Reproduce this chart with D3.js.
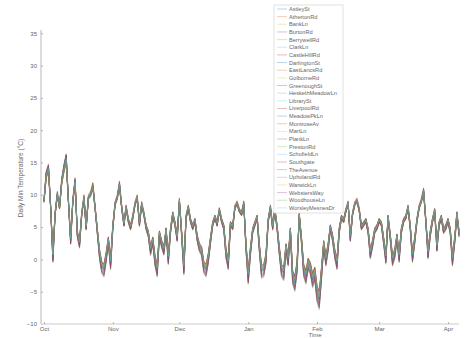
<!DOCTYPE html>
<html><head><meta charset="utf-8">
<script src="https://cdn.jsdelivr.net/npm/d3@7"></script>
<style>body{margin:0;background:#fff}svg{display:block}text{font-family:"Liberation Sans",Arial,sans-serif}</style>
</head><body>
<svg id="c" width="468" height="338"></svg>
<script>
const stations = ["AstleySt","AthertonRd","BankLn","BurtonRd","BerrywellRd","ClarkLn","CastleHillRd","DarlingtonSt","EastLancsRd","GolborneRd","GreenoughSt","HeskethMeadowLn","LibrarySt","LiverpoolRd","MeadowPkLn","MontroseAv","MartLn","PlankLn","PrestonRd","SchofieldLn","Southgate","TheAvenue","UpholandRd","WarwickLn","WebstersWay","WoodhouseLn","WorsleyMesnesDr"];
// estimated mean daily minimum (°C), one value per day from 1 Oct
const baseTemps = [9,13,14,8,0.5,7,10,8,12,14,15.5,9,3,9,12,4,2.5,7,9.5,5,9.5,10,11.3,8,4.5,1,-1,-1.5,0.5,3,-0.5,
5,8.5,9.5,11.5,8,5.5,8,6,5,6.5,8.5,9.5,5.5,8.5,7,5,4,1.5,3,0,-1.5,4,2.5,1.5,4.5,0.2,4.5,7,5.5,3.4,
9,4,-1.2,6.5,8,6,5,6,3.4,2,1.4,-1,-1.5,0.3,3,5.5,6.5,5.5,7.6,6,5,1,-0.5,5.5,5,8,8.6,7.5,7,8.6,
2,-2.5,1.4,4.5,5.5,6.5,2,-1.7,-1.5,0.3,6,8,5,7.6,5,1.5,-1.5,-2,1.9,0,4.5,-2.5,-3.5,-1,6.8,3,-1.5,-2.5,-0.5,-1.2,-3,-2,-5,-6,-2,
2.4,0,2,5,3.4,1,-0.5,4.5,6.5,6,7.5,8.6,3.4,7,8.5,9,7.6,5,5.5,6,4.5,1,2.5,4.5,5,6,5.5,3,0.3,6.5,3.5,0,
1,3.5,0.5,4.5,6,6.5,8,5,0.5,3,6,8,9,10.5,6,1,4,6,7.5,2,5.5,6.5,4.5,5,6,4.5,0,3,7,4];
// estimated station bias (°C) and amplitude factor
const stationOffset = [0.2,-0.1,0.3,-0.4,0.1,-0.2,0.3,0.1,-0.3,0.0,0.4,-0.5,0.1,0.1,-0.3,0.2,-0.1,-0.4,0.3,-0.1,0.3,0.0,-0.3,0.1,-0.2,0.1,0.2];
const stationAmp = [0.04,-0.04,0.06,0.1,-0.06,0.0,0.04,-0.07,0.06,0.02,-0.05,0.12,0.0,-0.03,0.08,-0.02,0.03,0.1,-0.06,0.04,-0.07,0.02,0.07,-0.04,0.05,-0.02,0.0];
const yTicks = [-10,-5,0,5,10,15,20,25,30,35];
const monthLabels = ["Oct","Nov","Dec","Jan","Feb","Mar","Apr"];
const colors = ["#0072BD","#D95319","#EDB120","#7E2F8E","#77AC30","#4DBEEE","#A2142F"];

const start = new Date(2018,9,1);
const dates = baseTemps.map((_,i)=>d3.timeDay.offset(start,i));
const svg = d3.select("#c");
const x = d3.scaleTime().domain([start,new Date(2019,3,1)]).range([44,448]);
const y = d3.scaleLinear().domain([-10,35.5]).range([324,30]);

const line = d3.line().x((d,i)=>x(dates[i])).y(d=>y(d));
stations.forEach((s,k)=>{
  const vals = baseTemps.map(v=>v+stationOffset[k]+(v-5)*stationAmp[k]);
  svg.append("path").attr("d",line(vals)).attr("fill","none")
    .attr("stroke",colors[k%7]).attr("stroke-width",0.55).attr("stroke-opacity",0.7);
});

// axes
const ya = svg.append("g").attr("transform","translate(41,0)")
  .call(d3.axisLeft(y).tickValues(yTicks).tickSize(-2).tickPadding(4));
const xa = svg.append("g").attr("transform","translate(0,324)")
  .call(d3.axisBottom(x).tickValues(monthLabels.map((m,i)=>d3.timeMonth.offset(start,i))).tickFormat((d,i)=>monthLabels[i]).tickSize(-2).tickPadding(3));
[ya,xa].forEach(g=>{g.selectAll("path").attr("stroke","#888").attr("stroke-width",0.6);
  g.selectAll("line").attr("stroke","#888").attr("stroke-width",0.6);
  g.selectAll("text").attr("fill","#666").attr("font-size",6);});
xa.select("path").attr("d","M41,0H459").attr("stroke","#ddd").attr("stroke-width",1.5);
ya.select("path").attr("d","M0,30V324");

svg.append("text").attr("transform","translate(23,178) rotate(-90)").attr("text-anchor","middle")
  .attr("font-size",6.5).attr("fill","#666").text("Daily Min Temperature (°C)");
svg.append("text").attr("x",315).attr("y",336.5).attr("text-anchor","middle")
  .attr("font-size",6).attr("fill","#666").text("Time");

// legend
const lg = svg.append("g");
lg.append("rect").attr("x",274).attr("y",5).attr("width",69).attr("height",208)
  .attr("fill","#fff").attr("stroke","#ccc").attr("stroke-width",0.6);
stations.forEach((s,k)=>{
  const yy = 9+k*7.65;
  lg.append("line").attr("x1",277).attr("x2",287).attr("y1",yy).attr("y2",yy)
    .attr("stroke",colors[k%7]).attr("stroke-width",0.5).attr("stroke-opacity",0.6);
  lg.append("text").attr("x",289).attr("y",yy+2).attr("font-size",5.6).attr("fill","#666").text(s);
});
</script>
</body></html>
